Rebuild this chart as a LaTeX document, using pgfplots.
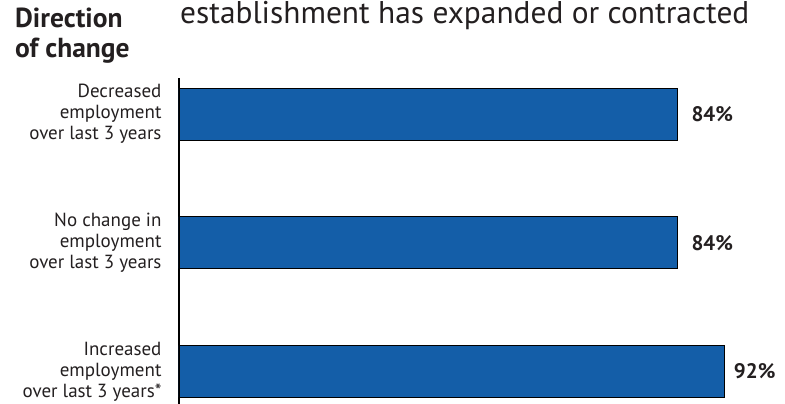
\documentclass[border=0pt]{standalone}
\usepackage{pgfplots}
\usepackage{pgfplotstable}
\pgfplotsset{compat=1.18}
\usepackage{fontspec}
\setmainfont{PT Sans}
\definecolor{barblue}{RGB}{20,94,168}
\definecolor{txt}{RGB}{35,31,32}
\pgfplotstableread{
x  y  s
92 0  9
84 1  14
84 2  14
}\datatable
\begin{document}
\begin{tikzpicture}[x=1pt,y=1pt]
\useasboundingbox (0,0) rectangle (785,404);
\node[anchor=base west, inner sep=0, font=\fontsize{31.4}{36}\selectfont, text=txt] at (180,380) {establishment has expanded or contracted};
\node[anchor=base west, inner sep=0, font=\fontsize{27.5}{30}\selectfont\bfseries, text=txt] at (15,376) {Direction};
\node[anchor=base west, inner sep=0, font=\fontsize{27.5}{30}\selectfont\bfseries, text=txt] at (15,346) {of change};
\begin{axis}[at={(179pt,0pt)}, anchor=south west, scale only axis,
  width=593pt, height=326pt, xmin=0, xmax=100, ymin=-0.253, ymax=2.28,
  xbar, bar width=52pt,
  axis x line=none, axis y line=left,
  y axis line style={-, line width=1.5pt, black},
  ytick={0,1,2},
  yticklabels={{Increased\\employment\\over last 3 years*},{No change in\\employment\\over last 3 years},{Decreased\\employment\\over last 3 years}},
  yticklabel style={align=right, font=\fontsize{19}{21}\selectfont, text=txt, xshift=-14pt},
  major tick length=0pt,
  point meta=x,
  /pgf/number format/assume math mode=true,
  visualization depends on={\thisrow{s} \as \myshift},
  nodes near coords={\pgfmathprintnumber{\pgfplotspointmeta}\%},
  nodes near coords style={font=\fontsize{21}{22}\selectfont\bfseries, anchor=west, inner sep=0pt, xshift=\myshift pt, text=txt},
  clip=false]
\addplot[fill=barblue, draw=black, line width=0.8pt] table[x=x, y=y] {\datatable};
\end{axis}
\end{tikzpicture}
\end{document}
